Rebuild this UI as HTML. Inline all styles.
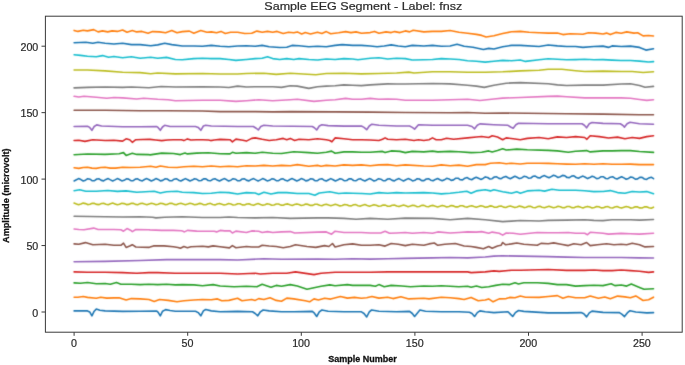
<!DOCTYPE html>
<html><head><meta charset="utf-8"><style>
html,body{margin:0;padding:0;background:#fff;}
body{width:685px;height:365px;overflow:hidden;}
svg{display:block;}
text{font-family:"Liberation Sans",sans-serif;}
.w{will-change:transform;width:685px;height:365px;}
</style></head><body>
<div class="w"><svg width="685" height="365" viewBox="0 0 685 365">
<rect x="0" y="0" width="685" height="365" fill="#fff"/>
<defs><filter id="c" x="0" y="0" width="685" height="365" filterUnits="userSpaceOnUse"><feConvolveMatrix order="3" kernelMatrix="1 6 1 6 36 6 1 6 1" divisor="64" edgeMode="none" preserveAlpha="false"/></filter></defs>
<g fill="none" stroke-width="1.6" stroke-linejoin="round" stroke-linecap="round" filter="url(#c)">
<polyline points="74.1,310.9 87.5,310.9 89.7,311.9 91.9,315.8 94.2,311.2 96.3,309.1 99.8,310.2 105.1,310.9 122.6,311.4 140.2,311.2 156.8,311.1 158.2,312.3 160.3,315.8 162.6,311.2 165.6,309.6 170.0,310.5 175.3,311.2 195.5,311.2 198.2,312.6 200.8,315.8 203.4,310.9 205.7,309.5 211.3,310.9 220.1,311.8 237.6,311.4 252.5,311.8 255.2,313.5 257.8,315.8 260.4,311.8 263.1,310.0 269.2,310.9 281.5,311.8 293.8,311.8 312.3,311.4 314.4,313.2 316.7,316.5 319.3,311.8 321.9,310.0 328.1,311.2 343.9,311.8 361.4,311.8 364.0,313.5 366.7,317.0 369.3,311.8 371.6,310.0 378.9,311.2 396.5,311.8 409.6,311.4 412.3,313.5 414.6,316.5 419.9,310.0 425.5,311.2 441.3,311.8 458.9,311.8 469.4,312.3 472.0,313.5 474.6,316.5 477.3,312.6 479.9,310.9 485.2,311.8 493.9,312.6 508.0,311.8 510.6,314.4 512.7,316.5 515.4,312.6 518.5,310.5 523.8,311.4 548.2,312.9 566.5,312.9 581.1,312.6 583.8,313.8 586.6,316.9 589.3,312.9 592.0,311.1 603.0,312.4 619.4,312.6 622.1,314.4 624.5,316.6 627.3,312.9 630.0,310.7 635.8,312.0 646.8,312.9 653.5,312.6" stroke="#1f77b4"/>
<polyline points="74.1,297.3 77.9,297.2 83.2,296.5 87.5,297.4 96.3,298.2 100.7,297.2 106.8,298.1 113.9,297.9 119.1,297.7 126.1,300.0 131.4,298.6 140.2,298.9 148.9,299.5 154.2,301.4 159.5,299.5 168.2,300.4 177.0,301.8 184.0,300.7 193.8,300.0 202.5,299.5 211.3,299.8 217.5,298.9 221.8,300.7 228.9,300.4 237.6,298.2 242.0,300.7 251.7,299.5 255.2,300.4 258.7,298.6 263.9,299.5 270.1,297.7 276.2,300.4 281.5,301.2 286.8,298.1 293.8,298.9 305.3,300.7 309.6,301.8 314.0,298.9 318.4,300.0 324.6,298.2 330.7,299.1 340.4,296.5 347.4,298.1 354.4,297.4 361.4,298.2 366.7,297.7 371.9,296.5 378.9,298.1 387.7,297.2 393.0,298.6 400.9,296.8 408.8,298.9 423.8,298.2 429.0,298.9 441.3,297.2 450.1,297.7 458.9,298.6 464.1,299.5 471.1,297.4 478.2,300.7 485.2,300.0 488.7,298.9 493.1,301.8 499.2,298.9 506.2,298.6 509.7,297.4 515.0,297.7 520.3,296.0 525.5,297.2 539.1,297.4 548.2,296.5 557.4,295.6 562.9,298.3 568.3,296.5 575.6,297.8 584.7,297.8 590.2,296.1 598.4,298.3 604.8,297.0 610.3,298.7 617.6,296.1 624.9,296.9 630.4,297.8 635.8,295.9 643.1,300.5 648.6,299.8 653.5,297.2" stroke="#ff7f0e"/>
<polyline points="74.1,282.9 80.5,283.2 87.5,282.5 96.3,283.7 105.1,283.5 110.3,284.2 116.5,282.5 120.9,284.2 131.4,284.2 140.2,284.6 148.9,284.2 157.7,284.6 166.5,284.2 175.3,284.9 182.3,284.6 193.8,284.9 202.5,285.8 213.1,284.6 220.1,286.0 234.1,286.7 246.4,286.3 256.9,286.7 262.2,284.2 265.7,285.4 271.0,287.2 276.2,285.4 281.5,286.3 290.3,284.6 297.3,286.0 307.0,289.3 314.0,287.7 321.1,286.3 329.8,284.9 335.1,285.8 347.4,284.6 352.6,285.4 361.4,285.4 370.2,285.4 375.4,286.3 378.9,284.6 384.2,286.7 391.2,285.4 401.8,286.0 410.5,286.7 423.8,286.0 432.5,286.3 441.3,285.8 450.1,286.3 458.9,286.7 467.6,286.3 471.1,287.2 476.4,286.0 481.7,287.5 488.7,286.7 495.7,285.4 502.7,284.2 509.7,284.6 515.0,282.8 518.5,284.0 523.8,282.8 537.3,282.8 548.2,283.4 557.4,284.6 566.5,284.6 575.6,286.1 584.7,285.6 593.9,285.2 603.0,285.6 611.2,283.7 614.9,285.6 621.2,285.0 626.7,286.1 631.3,284.1 639.5,287.4 644.0,289.2 653.5,288.8" stroke="#2ca02c"/>
<polyline points="74.1,271.9 87.5,272.3 105.1,272.3 122.6,272.6 136.7,273.2 148.9,272.6 157.7,272.6 175.3,273.3 202.5,273.2 220.1,273.2 237.6,274.0 255.2,273.2 260.4,274.0 272.7,273.2 286.8,273.2 295.5,271.9 314.0,274.6 321.1,273.2 335.1,272.3 352.6,272.3 370.2,272.3 387.7,271.9 405.3,271.9 432.5,271.9 450.1,271.9 467.6,271.9 471.1,272.6 485.2,271.9 493.9,270.9 499.2,271.4 511.5,270.2 520.3,270.2 548.2,269.5 566.5,270.4 584.7,270.4 593.9,270.0 603.0,270.6 612.1,270.6 621.2,270.0 630.4,270.6 639.5,271.3 648.6,272.4 653.5,271.9" stroke="#d62728"/>
<polyline points="74.1,261.7 105.1,261.4 140.2,260.5 166.5,259.6 220.1,259.6 237.6,260.0 263.9,258.8 281.5,259.3 317.5,259.1 335.1,259.3 352.6,258.8 370.2,259.1 387.7,258.8 405.3,258.4 432.5,257.9 450.1,257.5 467.6,257.9 485.2,257.0 493.9,256.1 502.7,255.8 520.3,256.1 548.2,256.6 566.5,257.1 584.7,257.5 603.0,257.5 621.2,257.5 639.5,257.9 653.5,258.0" stroke="#9467bd"/>
<polyline points="74.1,243.9 78.8,244.2 85.4,242.6 92.8,244.7 105.1,244.2 113.9,245.3 120.9,245.3 123.5,243.2 126.1,247.4 129.7,246.0 132.3,244.7 135.8,247.0 148.9,247.4 150.0,247.1 153.5,245.9 164.0,245.9 173.4,246.8 178.0,247.5 180.4,248.3 183.9,246.5 187.4,247.7 190.9,246.8 202.6,246.3 208.4,246.9 213.1,245.9 220.1,246.8 229.4,247.9 232.4,245.6 235.9,247.7 246.4,246.5 251.7,247.0 258.7,247.0 262.2,245.3 269.2,246.0 276.2,246.5 283.2,247.7 290.3,246.5 295.5,244.7 307.0,246.5 315.8,247.4 324.6,245.6 328.9,246.5 332.5,243.5 335.1,247.0 343.9,244.7 352.6,243.9 361.4,245.3 370.2,245.3 378.9,244.7 385.1,246.1 391.2,243.5 398.2,244.2 405.3,245.6 412.3,244.2 423.8,245.3 429.0,243.9 434.3,243.0 437.8,245.3 444.8,244.2 455.4,243.5 464.1,246.0 471.1,246.5 476.4,247.4 483.4,248.8 488.7,246.5 492.2,248.2 497.5,246.0 501.0,245.3 502.7,242.5 505.4,244.7 511.5,243.9 516.8,243.0 523.8,244.2 537.3,245.3 541.0,243.4 548.2,243.8 553.7,242.9 561.0,244.2 568.3,245.6 573.8,243.8 581.1,244.7 586.6,242.5 590.2,245.6 597.5,244.7 606.6,243.8 613.9,244.7 621.2,244.3 626.7,244.7 632.2,243.2 639.5,244.7 645.0,246.9 653.5,246.5" stroke="#8c564b"/>
<polyline points="74.1,229.0 78.8,229.5 84.0,229.8 93.7,228.1 98.1,229.5 113.9,229.5 120.9,229.8 123.5,231.2 127.0,228.6 130.5,230.2 132.3,231.6 135.8,229.5 148.9,229.8 150.0,229.9 161.7,230.4 173.4,230.4 181.5,230.8 183.1,231.3 184.4,231.9 186.0,231.1 187.4,230.4 196.7,231.1 208.4,231.3 214.2,231.3 216.6,231.9 220.1,230.4 224.7,230.9 230.0,230.8 232.4,233.0 235.9,231.1 246.4,232.5 251.7,230.9 258.7,231.2 262.2,232.5 267.5,231.6 272.7,232.5 281.5,231.9 290.3,231.6 294.6,233.0 317.5,232.1 326.3,231.9 331.6,234.2 335.1,231.2 343.9,232.5 352.6,232.5 361.4,232.5 370.2,233.0 380.7,233.0 385.1,231.2 389.5,233.3 396.5,233.0 405.3,232.5 412.3,233.3 423.8,232.5 432.5,233.3 437.8,231.9 450.1,233.0 458.9,232.5 467.6,231.9 476.4,232.1 481.7,231.6 488.7,233.3 492.2,232.1 499.2,233.3 502.7,235.1 506.2,233.0 513.2,233.3 520.3,234.2 537.3,232.5 548.2,232.8 557.4,232.8 568.3,232.5 575.6,233.2 584.7,233.2 587.5,234.7 590.2,232.3 603.0,233.2 608.5,234.1 621.2,233.4 630.4,233.8 639.5,234.1 653.5,233.2" stroke="#e377c2"/>
<polyline points="74.1,216.3 105.1,216.8 122.6,217.0 140.2,216.7 152.5,217.2 156.0,217.9 164.7,217.2 182.3,216.8 202.5,217.5 220.1,217.5 228.9,217.0 237.6,217.5 255.2,217.9 272.7,217.5 290.3,218.4 317.5,217.9 328.1,217.9 343.9,218.4 356.1,219.3 370.2,218.4 387.7,219.3 405.3,218.1 432.5,218.4 450.1,219.7 467.6,218.4 485.2,219.7 502.7,221.6 511.5,221.1 520.3,220.5 539.1,221.0 548.2,220.4 566.5,220.1 584.7,219.7 593.9,220.4 603.0,220.6 612.1,219.7 630.4,219.7 639.5,220.1 653.5,219.5" stroke="#7f7f7f"/>
<polyline points="74.1,203.1 76.4,203.9 78.6,204.7 80.9,204.0 83.2,203.1 85.5,203.6 87.7,204.6 90.0,204.3 92.3,203.3 94.5,203.4 96.8,204.4 99.1,204.6 101.4,203.5 103.6,203.2 105.9,204.2 108.2,204.7 110.5,203.8 112.7,203.1 115.0,203.9 117.3,204.7 119.5,204.2 121.8,203.2 124.1,203.6 126.4,204.6 128.6,204.4 130.9,203.4 133.2,203.3 135.4,204.4 137.7,204.7 140.0,203.6 142.3,203.2 144.5,204.1 146.8,204.8 149.1,203.9 151.3,203.2 153.6,203.8 155.9,204.7 158.2,204.2 160.4,203.3 162.7,203.6 165.0,204.6 167.2,204.5 169.5,203.4 171.8,203.3 174.1,204.4 176.3,204.7 178.6,203.7 180.9,203.2 183.2,204.1 185.4,204.8 187.7,204.1 190.0,203.2 192.2,203.8 194.5,204.8 196.8,204.4 199.1,203.4 201.3,203.6 203.6,204.7 205.9,204.7 208.2,203.7 210.4,203.4 212.7,204.5 215.0,204.9 217.2,204.0 219.5,203.4 221.8,204.2 224.1,205.0 226.3,204.4 228.6,203.5 230.9,204.0 233.1,205.0 235.4,204.7 237.7,203.7 240.0,203.8 242.2,204.9 244.5,205.0 246.8,204.0 249.0,203.7 251.3,204.7 253.6,205.2 255.9,204.3 258.1,203.6 260.4,204.4 262.7,205.2 264.9,204.7 267.2,203.7 269.5,204.2 271.8,205.2 274.0,205.0 276.3,204.0 278.6,204.0 280.9,205.1 283.1,205.3 285.4,204.3 287.7,203.9 289.9,204.8 292.2,205.4 294.5,204.6 296.8,203.9 299.0,204.6 301.3,205.5 303.6,205.0 305.8,204.1 308.1,204.4 310.4,205.4 312.7,205.4 314.9,204.3 317.2,204.2 319.5,205.3 321.8,205.7 324.0,204.7 326.3,204.2 328.6,205.1 330.8,205.8 333.1,205.1 335.4,204.3 337.6,204.9 339.9,205.9 342.2,205.5 344.5,204.5 346.7,204.7 349.0,205.8 351.3,205.9 353.6,204.8 355.8,204.6 358.1,205.7 360.4,206.1 362.6,205.2 364.9,204.6 367.2,205.5 369.5,206.2 371.7,205.6 374.0,204.7 376.3,205.2 378.6,206.3 380.8,206.0 383.1,205.0 385.4,205.1 387.6,206.2 389.9,206.3 392.2,205.3 394.4,205.0 396.7,206.0 399.0,206.6 401.3,205.7 403.5,205.0 405.8,205.8 408.1,206.7 410.4,206.1 412.6,205.2 414.9,205.6 417.2,206.7 419.4,206.5 421.7,205.4 424.0,205.4 426.3,206.5 428.5,206.8 430.8,205.8 433.1,205.4 435.4,206.3 437.6,206.9 439.9,206.2 442.2,205.4 444.4,206.1 446.7,207.0 449.0,206.5 451.2,205.6 453.5,205.9 455.8,206.9 458.1,206.9 460.3,205.8 462.6,205.7 464.9,206.8 467.2,207.1 469.4,206.2 471.7,205.7 474.0,206.6 476.2,207.3 478.5,206.6 480.8,205.7 483.1,206.3 485.3,207.3 487.6,206.9 489.9,205.9 492.1,206.1 494.4,207.2 496.7,207.3 499.0,206.2 501.2,206.0 503.5,207.1 505.8,207.5 508.1,206.6 510.3,206.0 512.6,206.8 514.9,207.6 517.1,207.0 519.4,206.1 521.7,206.6 524.0,207.6 526.2,207.3 528.5,206.3 530.8,206.4 533.0,207.5 535.3,207.7 537.6,206.6 539.9,206.3 542.1,207.3 544.4,207.8 546.7,206.9 549.0,206.2 551.2,207.0 553.5,207.8 555.8,207.3 558.0,206.3 560.3,206.7 562.6,207.8 564.9,207.6 567.1,206.5 569.4,206.5 571.7,207.6 573.9,207.8 576.2,206.8 578.5,206.4 580.8,207.3 583.0,207.9 585.3,207.1 587.6,206.4 589.8,207.1 592.1,208.0 594.4,207.5 596.7,206.5 598.9,206.8 601.2,207.9 603.5,207.8 605.8,206.7 608.0,206.6 610.3,207.7 612.6,208.0 614.8,207.0 617.1,206.5 619.4,207.4 621.6,208.1 623.9,207.3 626.2,206.5 628.5,207.1 630.7,208.1 633.0,207.7 635.3,206.7 637.6,206.9 639.8,207.9 642.1,208.0 644.4,206.9 646.6,206.7 648.9,207.7 651.2,208.2 653.5,207.2" stroke="#bcbd22"/>
<polyline points="74.1,190.7 79.7,189.7 85.8,191.2 96.3,191.2 107.7,190.5 117.4,191.4 126.1,190.9 136.7,192.3 145.4,191.8 154.2,191.2 160.3,193.0 166.5,191.8 177.0,191.2 182.3,192.3 193.8,192.6 202.5,193.5 211.3,193.2 220.1,192.3 228.9,192.6 237.6,194.0 246.4,192.6 255.2,193.0 258.7,194.4 263.9,192.3 271.0,194.0 278.0,192.6 286.8,192.6 297.3,193.5 308.8,193.5 314.9,195.3 319.3,193.0 329.8,191.8 338.6,193.5 345.6,193.0 352.6,193.2 361.4,193.5 370.2,194.0 378.9,192.6 387.7,193.2 396.5,192.6 405.3,193.0 423.8,192.6 432.5,193.0 441.3,193.9 450.1,193.2 458.9,192.3 466.8,191.2 471.1,193.2 476.4,190.9 485.2,189.7 490.4,190.9 493.9,189.7 502.7,191.8 511.5,193.2 516.8,191.8 520.3,193.2 527.3,190.9 539.1,190.2 544.6,191.1 551.9,189.3 559.2,190.2 566.5,190.2 575.6,190.2 584.7,190.7 593.9,191.6 603.0,191.5 610.3,190.6 617.6,192.6 624.9,193.3 632.2,191.5 639.5,192.0 646.8,191.6 653.5,193.8" stroke="#17becf"/>
<polyline points="74.1,181.0 76.4,179.8 78.6,178.6 80.9,179.6 83.2,181.0 85.5,180.2 87.7,178.7 90.0,179.2 92.3,180.8 94.5,180.6 96.8,179.0 99.1,178.8 101.4,180.4 103.6,180.9 105.9,179.4 108.2,178.6 110.5,179.9 112.7,181.0 115.0,179.9 117.3,178.6 119.5,179.5 121.8,180.9 124.1,180.3 126.4,178.8 128.6,179.1 130.9,180.7 133.2,180.7 135.4,179.1 137.7,178.8 140.0,180.3 142.3,180.9 144.5,179.5 146.8,178.6 149.1,179.8 151.3,181.0 153.6,180.0 155.9,178.6 158.2,179.4 160.4,180.9 162.7,180.4 165.0,178.8 167.2,179.0 169.5,180.6 171.8,180.8 174.1,179.2 176.3,178.7 178.6,180.2 180.9,181.0 183.2,179.7 185.4,178.6 187.7,179.7 190.0,181.0 192.2,180.1 194.5,178.7 196.8,179.3 199.1,180.8 201.3,180.5 203.6,178.9 205.9,178.9 208.2,180.5 210.4,180.8 212.7,179.3 215.0,178.7 217.2,180.1 219.5,181.0 221.8,179.8 224.1,178.6 226.3,179.6 228.6,181.0 230.9,180.2 233.1,178.7 235.4,179.2 237.7,180.8 240.0,180.6 242.2,179.0 244.5,178.8 246.8,180.4 249.0,180.9 251.3,179.4 253.6,178.6 255.9,179.9 258.1,181.0 260.4,179.9 262.7,178.6 264.9,179.5 267.2,180.9 269.5,180.3 271.8,178.8 274.0,179.1 276.3,180.7 278.6,180.7 280.9,179.1 283.1,178.8 285.4,180.3 287.7,180.9 289.9,179.5 292.2,178.6 294.5,179.8 296.8,181.0 299.0,180.0 301.3,178.6 303.6,179.4 305.8,180.9 308.1,180.4 310.4,178.8 312.7,179.0 314.9,180.6 317.2,180.8 319.5,179.2 321.8,178.7 324.0,180.2 326.3,181.0 328.6,179.7 330.8,178.6 333.1,179.7 335.4,181.0 337.6,180.1 339.9,178.7 342.2,179.3 344.5,180.8 346.7,180.5 349.0,178.9 351.3,178.9 353.6,180.5 355.8,180.8 358.1,179.3 360.4,178.7 362.6,180.1 364.9,181.0 367.2,179.8 369.5,178.6 371.7,179.6 374.0,181.0 376.3,180.2 378.6,178.7 380.8,179.2 383.1,180.7 385.4,180.6 387.6,179.0 389.9,178.8 392.2,180.4 394.4,180.9 396.7,179.4 399.0,178.6 401.3,179.9 403.5,181.0 405.8,179.8 408.1,178.6 410.4,179.4 412.6,180.9 414.9,180.3 417.2,178.7 419.4,179.0 421.7,180.6 424.0,180.6 426.3,179.0 428.5,178.7 430.8,180.2 433.1,180.8 435.4,179.4 437.6,178.5 439.9,179.7 442.2,180.8 444.4,179.8 446.7,178.3 449.0,178.9 451.2,180.4 453.5,179.9 455.8,178.2 458.1,178.2 460.3,179.8 462.6,179.9 464.9,178.2 467.2,177.6 469.4,179.0 471.7,179.7 474.0,178.3 476.2,177.2 478.5,178.2 480.8,179.4 483.1,178.4 485.3,176.9 487.6,177.5 489.9,179.0 492.1,178.7 494.4,177.0 496.7,176.9 499.0,178.4 501.2,178.7 503.5,177.2 505.8,176.4 508.1,177.8 510.3,178.7 512.6,177.5 514.9,176.3 517.1,177.3 519.4,178.6 521.7,177.9 524.0,176.3 526.2,176.7 528.5,178.2 530.8,178.0 533.0,176.3 535.3,176.1 537.6,177.6 539.9,178.0 542.1,176.4 544.4,175.6 546.7,176.8 549.0,177.8 551.2,176.6 553.5,175.3 555.8,176.1 558.0,177.5 560.3,176.8 562.6,175.4 564.9,175.8 567.1,177.5 569.4,177.6 571.7,176.1 573.9,175.8 576.2,177.5 578.5,178.2 580.8,176.9 583.0,176.1 585.3,177.3 587.6,178.6 589.8,177.6 592.1,176.3 594.4,177.1 596.7,178.6 598.9,178.2 601.2,176.7 603.5,176.8 605.8,178.5 608.0,178.7 610.3,177.2 612.6,176.7 614.8,178.2 617.1,179.0 619.4,177.8 621.6,176.7 623.9,177.9 626.2,179.2 628.5,178.4 630.7,177.0 633.0,177.6 635.3,179.2 637.6,178.9 639.8,177.4 642.1,177.4 644.4,179.0 646.6,179.4 648.9,177.9 651.2,177.2 653.5,178.7" stroke="#1f77b4"/>
<polyline points="74.1,167.7 78.8,168.4 83.2,167.5 87.5,167.2 91.9,168.1 96.3,168.4 100.7,167.5 105.1,167.2 110.3,168.1 115.6,168.1 122.6,167.2 129.7,167.5 140.2,167.2 145.4,166.8 150.7,166.3 156.0,167.2 160.3,166.0 168.2,167.2 177.0,167.5 184.0,166.8 193.8,166.3 202.5,166.8 211.3,166.0 220.1,166.7 228.9,166.3 237.6,166.7 246.4,165.8 255.2,166.0 263.9,165.4 272.7,166.0 281.5,165.4 290.3,165.8 297.3,164.6 308.8,166.3 317.5,165.4 321.1,166.3 326.3,165.4 335.1,166.0 343.9,164.9 352.6,165.4 361.4,164.9 370.2,165.8 378.9,164.9 387.7,164.6 396.5,165.8 405.3,164.9 423.8,166.0 432.5,166.3 441.3,164.9 450.1,165.8 458.9,165.1 467.6,166.3 476.4,164.6 485.2,164.6 490.4,163.3 499.2,162.8 506.2,163.7 511.5,163.2 520.3,164.0 527.3,163.2 539.1,163.2 548.2,163.4 557.4,163.7 566.5,164.1 575.6,164.3 584.7,163.7 593.9,164.3 603.0,163.7 612.1,164.3 621.2,164.3 630.4,164.1 639.5,164.6 653.5,164.6" stroke="#ff7f0e"/>
<polyline points="74.1,154.8 87.5,154.0 105.1,154.4 119.1,153.7 123.5,152.6 126.1,155.4 132.3,153.2 136.7,154.4 148.9,154.6 150.0,154.9 161.7,153.1 173.4,153.5 180.4,154.6 185.0,153.1 187.4,153.9 196.7,153.1 208.4,152.8 220.1,153.7 230.0,153.9 232.4,152.3 235.9,153.3 246.4,152.6 255.2,153.2 262.2,152.3 272.7,153.2 281.5,153.5 293.8,151.8 308.8,152.6 317.5,153.2 326.3,152.3 331.6,151.1 335.1,153.2 343.9,151.9 352.6,151.9 361.4,152.3 370.2,152.3 382.5,151.4 385.1,152.6 391.2,150.9 400.0,151.4 405.3,152.6 412.3,151.4 423.8,151.9 432.5,151.1 437.8,151.9 450.1,151.4 458.9,151.8 471.1,152.6 481.7,152.3 488.7,150.9 492.2,151.9 497.5,150.5 502.7,148.8 506.2,150.0 516.8,149.1 527.3,149.7 548.2,150.4 557.4,150.9 568.3,152.2 575.6,151.3 586.6,150.6 590.2,151.9 603.0,150.9 612.1,150.9 621.2,150.6 630.4,150.6 639.5,151.5 653.5,152.4" stroke="#2ca02c"/>
<polyline points="74.1,140.5 78.8,140.2 84.9,141.4 92.8,139.7 105.1,140.5 113.9,140.2 122.6,141.1 126.1,138.8 129.7,139.7 132.3,142.3 135.8,139.7 148.9,139.3 150.0,139.4 155.8,140.0 161.7,140.6 167.5,140.0 173.4,139.7 181.5,139.7 183.9,140.6 187.4,138.9 190.9,140.0 196.7,139.8 202.6,139.7 208.4,140.0 210.7,140.6 214.2,140.0 220.1,139.4 230.0,139.7 232.4,141.8 235.9,139.1 242.9,140.2 246.4,141.1 251.7,138.4 255.2,137.9 262.2,139.3 269.2,140.5 276.2,139.7 283.2,138.4 286.8,139.7 290.3,138.4 294.6,140.5 299.0,139.3 308.8,139.7 317.5,138.8 326.3,139.7 329.8,140.5 331.9,141.8 335.1,137.9 343.9,138.8 352.6,139.7 361.4,139.7 370.2,140.0 378.9,140.5 382.5,139.3 385.1,137.9 387.7,139.3 396.5,139.7 405.3,139.3 414.0,140.5 418.5,139.7 423.8,140.5 429.0,139.7 432.5,137.9 436.1,139.7 441.3,139.7 446.6,138.2 453.6,139.3 467.6,137.9 476.4,137.0 481.7,136.5 488.7,137.5 492.2,135.8 497.5,137.0 502.7,139.7 506.2,137.9 513.2,138.8 520.3,139.7 527.3,138.4 539.1,137.5 548.2,138.8 557.4,136.9 566.5,137.5 575.6,136.6 584.7,137.5 586.9,139.3 590.2,135.7 599.3,136.6 608.5,138.0 617.6,137.1 624.9,138.8 632.2,137.5 639.5,138.4 646.8,136.6 653.5,135.7" stroke="#d62728"/>
<polyline points="74.1,126.5 87.5,126.3 89.7,127.4 91.9,130.3 94.2,126.5 96.7,124.9 101.6,126.0 122.6,126.7 140.2,126.7 156.8,126.5 158.2,127.7 160.3,130.3 162.5,127.0 164.7,125.3 170.0,126.5 195.5,126.5 198.2,127.4 200.8,130.3 203.4,126.0 205.7,125.3 211.3,126.0 237.6,126.5 253.4,126.5 256.1,128.2 258.3,130.0 260.8,126.5 263.9,125.3 272.7,126.0 312.3,126.5 314.4,127.7 316.7,130.0 319.3,126.0 321.9,124.7 328.1,125.6 343.9,126.1 361.4,126.0 364.0,127.4 366.7,129.7 369.3,126.0 371.9,124.2 378.9,125.3 396.5,126.0 409.6,126.0 412.3,127.4 414.6,129.1 418.5,124.7 432.5,125.3 450.1,125.3 467.6,125.3 472.0,126.5 474.6,128.8 477.3,125.3 479.9,123.9 493.9,124.7 508.0,125.3 510.6,127.0 513.2,128.2 515.9,124.7 518.5,123.3 548.2,123.8 566.5,123.8 582.0,123.8 584.4,125.3 586.6,127.8 589.3,123.8 592.0,122.5 603.0,123.4 620.3,123.8 622.7,125.3 624.5,127.1 627.1,123.8 630.0,122.3 639.5,123.8 653.5,124.2" stroke="#9467bd"/>
<polyline points="74.1,110.2 105.1,110.2 140.2,110.7 166.5,110.7 202.5,111.0 220.1,111.6 237.6,111.6 255.2,111.6 272.7,111.9 290.3,111.6 335.1,111.9 370.2,112.1 405.3,112.5 450.1,112.8 467.6,112.5 485.2,113.3 502.7,113.0 566.5,113.8 603.0,114.1 639.5,114.7 653.5,114.7" stroke="#8c564b"/>
<polyline points="74.1,96.3 78.8,97.0 84.0,96.3 96.3,97.2 106.8,98.2 113.9,97.5 122.6,97.9 136.7,99.0 143.7,98.2 157.7,99.3 168.2,99.7 175.3,100.7 202.5,100.2 220.1,100.2 235.9,101.4 246.4,100.7 258.7,99.8 272.7,100.7 290.3,99.7 297.3,99.3 314.0,101.4 326.3,100.2 335.1,99.7 345.6,98.4 352.6,99.3 361.4,99.3 370.2,98.4 378.9,99.3 387.7,99.0 396.5,99.3 405.3,100.2 432.5,100.2 450.1,99.7 467.6,99.3 479.9,100.5 493.9,99.0 502.7,98.1 520.3,97.5 548.2,96.4 557.4,96.1 566.5,96.8 584.7,97.9 603.0,97.9 621.2,97.9 630.4,98.2 639.5,99.5 646.8,100.4 653.5,99.7" stroke="#e377c2"/>
<polyline points="74.1,87.9 87.5,87.4 105.1,87.0 122.6,87.4 131.4,87.0 148.9,87.7 161.2,86.5 175.3,87.0 202.5,86.7 220.1,87.0 228.9,87.5 237.6,86.1 246.4,87.0 255.2,86.7 272.7,86.7 281.5,87.4 290.3,85.8 297.3,86.1 308.8,88.4 317.5,86.7 326.3,86.1 335.1,85.8 343.9,84.9 352.6,85.3 361.4,85.6 370.2,84.9 378.9,84.4 387.7,83.9 396.5,84.0 405.3,84.0 432.5,83.5 450.1,83.9 467.6,85.3 476.4,86.1 484.3,87.4 493.9,85.3 506.2,83.2 520.3,82.6 548.2,83.7 557.4,84.9 566.5,85.5 584.7,85.1 603.0,85.1 621.2,84.0 630.4,83.7 639.5,85.5 645.0,87.3 653.5,86.4" stroke="#7f7f7f"/>
<polyline points="74.1,70.0 87.5,70.0 105.1,70.9 122.6,72.3 140.2,72.6 150.7,73.7 157.7,73.0 175.3,73.9 202.5,73.5 220.1,74.0 237.6,74.0 246.4,73.5 263.9,73.2 276.2,74.4 290.3,73.2 315.8,74.7 326.3,73.5 343.9,73.2 361.4,73.9 378.9,73.5 396.5,73.0 408.8,72.1 414.0,73.0 432.5,71.8 450.1,71.8 467.6,72.3 485.2,72.3 502.7,71.8 520.3,70.9 539.1,70.2 548.2,69.3 561.9,69.3 575.6,70.7 584.7,71.5 603.0,71.1 621.2,71.5 632.2,71.5 643.1,72.5 653.5,71.7" stroke="#bcbd22"/>
<polyline points="74.1,54.8 80.5,55.4 87.5,56.3 96.3,56.8 102.5,55.6 108.6,57.2 113.9,56.5 122.6,57.7 131.4,56.8 140.2,58.2 150.7,57.2 157.7,58.2 166.5,57.4 175.3,59.5 182.3,59.8 193.8,58.6 202.5,58.2 211.3,58.6 220.1,58.6 228.9,59.5 235.9,60.4 246.4,59.5 255.2,58.6 262.2,58.2 267.5,56.8 272.7,58.6 279.7,59.5 286.8,58.6 293.8,59.5 299.0,58.6 308.8,59.5 317.5,60.0 326.3,59.0 335.1,59.5 343.9,58.6 352.6,59.0 357.9,59.8 370.2,58.2 378.9,57.7 387.7,59.0 396.5,58.2 405.3,58.6 412.3,60.0 423.8,59.8 432.5,59.5 441.3,58.6 450.1,59.0 458.9,59.5 467.6,60.7 476.4,61.2 485.2,62.1 493.9,61.2 502.7,60.4 511.5,60.7 520.3,60.0 525.5,61.4 539.1,59.8 548.2,58.7 557.4,59.2 566.5,59.8 575.6,59.6 584.7,59.2 593.9,59.8 603.0,59.6 612.1,60.1 621.2,60.5 630.4,60.5 639.5,61.1 648.6,62.0 653.5,61.6" stroke="#17becf"/>
<polyline points="74.1,42.8 85.8,42.3 92.8,43.3 98.1,42.3 105.1,43.2 113.9,44.0 122.6,43.2 131.4,44.6 140.2,44.6 150.7,45.8 157.7,44.9 164.7,43.2 171.8,44.6 182.3,46.0 193.8,46.0 202.5,46.3 211.3,45.4 220.1,46.3 228.9,46.8 237.6,46.0 246.4,45.8 255.2,46.3 262.2,45.4 269.2,46.7 279.7,47.5 286.8,47.2 292.0,45.4 299.0,45.8 308.8,46.7 317.5,46.3 326.3,46.7 335.1,45.4 342.1,44.6 352.6,45.4 361.4,45.4 370.2,46.0 377.2,46.8 384.2,46.0 391.2,44.9 398.2,46.0 405.3,46.7 412.3,45.4 423.8,46.0 432.5,45.4 441.3,46.3 450.1,46.0 457.1,44.2 464.1,46.3 472.9,47.2 483.4,49.5 488.7,48.4 493.9,49.0 502.7,46.7 511.5,45.4 520.3,45.4 539.1,46.5 548.2,45.0 557.4,45.9 566.5,46.5 575.6,46.5 582.9,47.4 593.9,46.5 603.0,46.1 608.5,47.4 612.1,45.9 621.2,46.5 630.4,46.1 639.5,47.4 645.9,50.1 653.5,48.7" stroke="#1f77b4"/>
<polyline points="74.1,30.4 77.9,31.4 83.2,30.2 87.5,30.9 93.7,29.6 98.1,31.9 102.5,30.9 107.7,31.9 112.1,30.9 117.4,31.4 122.6,30.0 127.0,32.3 132.3,30.5 136.7,31.9 141.9,31.4 148.1,33.2 152.5,31.6 159.5,31.9 165.6,32.8 171.8,30.5 177.0,32.8 182.3,31.6 189.4,31.1 193.8,33.2 200.8,30.5 206.9,32.3 211.3,31.9 216.6,32.8 221.0,31.4 225.3,33.5 230.6,32.3 237.6,32.3 244.7,33.5 251.7,33.2 256.9,31.1 262.2,32.3 267.5,31.4 272.7,32.3 277.1,31.4 283.2,33.5 288.5,32.3 293.8,32.8 297.3,31.9 301.7,34.0 305.3,32.6 310.5,34.0 317.5,32.3 321.9,33.5 326.3,31.6 330.7,33.7 338.6,32.8 345.6,31.6 350.9,32.6 356.1,31.9 361.4,33.2 370.2,32.6 374.6,31.4 378.9,33.2 386.0,31.9 391.2,32.6 394.7,31.6 400.0,32.6 405.3,30.9 409.6,31.9 413.2,30.2 423.8,31.9 432.5,31.4 441.3,31.4 450.1,30.5 458.9,32.3 467.6,33.2 476.4,34.4 481.7,35.4 486.1,37.0 493.9,35.8 502.7,33.5 511.5,31.8 520.3,31.4 529.0,32.3 539.1,32.8 548.2,33.1 557.4,33.1 562.9,34.6 570.1,33.7 577.5,34.0 582.9,34.2 588.4,32.8 595.7,33.1 603.0,34.0 606.6,33.1 610.3,34.6 615.8,32.4 621.2,33.3 626.7,31.9 634.0,33.1 637.7,32.8 643.1,35.9 648.6,35.5 653.5,36.0" stroke="#ff7f0e"/>
</g>
<rect x="45.4" y="16.2" width="636.8" height="316.0" fill="none" stroke="#3a3a3a" stroke-width="1"/>
<g stroke="#3a3a3a" stroke-width="1">
<line x1="41.5" y1="312.00" x2="45.4" y2="312.00"/>
<line x1="41.5" y1="245.55" x2="45.4" y2="245.55"/>
<line x1="41.5" y1="179.10" x2="45.4" y2="179.10"/>
<line x1="41.5" y1="112.65" x2="45.4" y2="112.65"/>
<line x1="41.5" y1="46.20" x2="45.4" y2="46.20"/>
<line x1="74.10" y1="332.2" x2="74.10" y2="335.8"/>
<line x1="187.70" y1="332.2" x2="187.70" y2="335.8"/>
<line x1="301.30" y1="332.2" x2="301.30" y2="335.8"/>
<line x1="414.90" y1="332.2" x2="414.90" y2="335.8"/>
<line x1="528.50" y1="332.2" x2="528.50" y2="335.8"/>
<line x1="642.10" y1="332.2" x2="642.10" y2="335.8"/>
</g>
<g font-size="10" fill="#2a2a2a" stroke="#2a2a2a" stroke-width="0.2">
<text x="38.3" y="316.80" text-anchor="end" textLength="5.95" lengthAdjust="spacingAndGlyphs">0</text>
<text x="38.3" y="250.35" text-anchor="end" textLength="11.90" lengthAdjust="spacingAndGlyphs">50</text>
<text x="38.3" y="183.90" text-anchor="end" textLength="17.85" lengthAdjust="spacingAndGlyphs">100</text>
<text x="38.3" y="117.45" text-anchor="end" textLength="17.85" lengthAdjust="spacingAndGlyphs">150</text>
<text x="38.3" y="51.00" text-anchor="end" textLength="17.85" lengthAdjust="spacingAndGlyphs">200</text>
<text x="73.90" y="347.1" text-anchor="middle" textLength="5.95" lengthAdjust="spacingAndGlyphs">0</text>
<text x="187.50" y="347.1" text-anchor="middle" textLength="11.90" lengthAdjust="spacingAndGlyphs">50</text>
<text x="301.10" y="347.1" text-anchor="middle" textLength="17.85" lengthAdjust="spacingAndGlyphs">100</text>
<text x="414.70" y="347.1" text-anchor="middle" textLength="17.85" lengthAdjust="spacingAndGlyphs">150</text>
<text x="528.30" y="347.1" text-anchor="middle" textLength="17.85" lengthAdjust="spacingAndGlyphs">200</text>
<text x="641.90" y="347.1" text-anchor="middle" textLength="17.85" lengthAdjust="spacingAndGlyphs">250</text>
</g>
<text x="363.3" y="10" font-size="11.2" fill="#2a2a2a" stroke="#2a2a2a" stroke-width="0.2" text-anchor="middle" textLength="198" lengthAdjust="spacingAndGlyphs">Sample EEG Segment - Label: fnsz</text>
<text x="362.4" y="362.4" font-size="9.6" font-weight="bold" fill="#111" stroke="#111" stroke-width="0.3" text-anchor="middle" textLength="68.5" lengthAdjust="spacingAndGlyphs">Sample Number</text>
<text transform="translate(9.2,195.7) rotate(-90)" font-size="9.6" font-weight="bold" fill="#111" stroke="#111" stroke-width="0.3" text-anchor="middle" textLength="94.5" lengthAdjust="spacingAndGlyphs">Amplitude (microvolt)</text>
</svg></div>
</body></html>
